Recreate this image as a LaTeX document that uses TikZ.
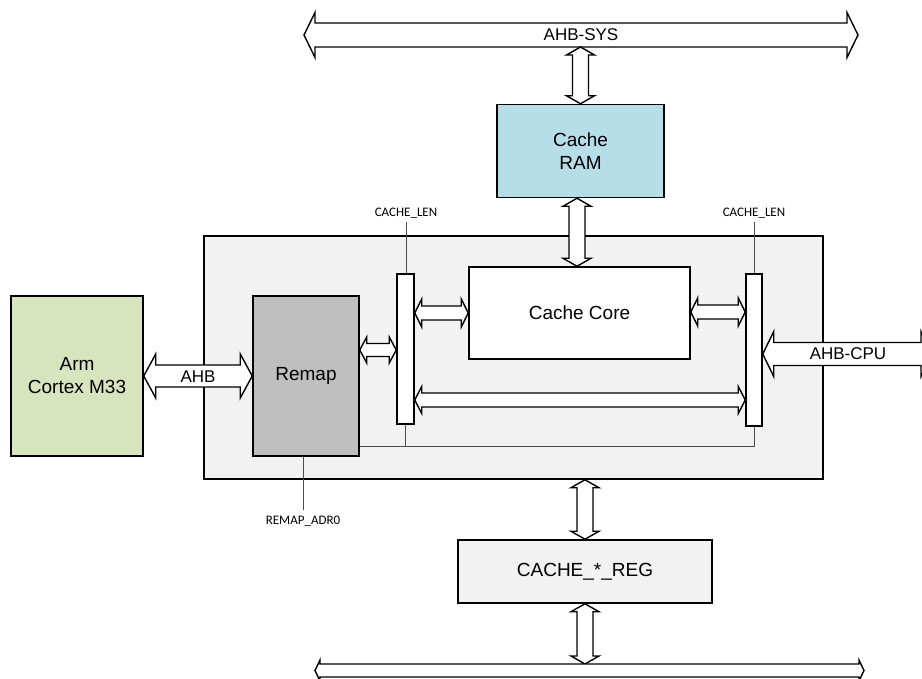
\documentclass[tikz,border=0pt]{standalone}
\usepackage{fontspec}
\setmainfont{Liberation Sans}
\newfontfamily\sigfont{Carlito}
\usetikzlibrary{calc}

\definecolor{armgreen}{HTML}{D7E4BD}
\definecolor{ramblue}{HTML}{B7DDE8}
\definecolor{remapgray}{HTML}{BFBFBF}
\definecolor{panel}{HTML}{F2F2F2}

% Horizontal block arrow with a head at both ends.
% #2 left tip, #3 right tip, #4 shaft half width, #5 head half width, #6 head length
\newcommand{\hblock}[6][]{%
  \filldraw[blockarrow,#1] let \p1=#2, \p2=#3 in
    (\x1,\y1) -- (\x1+#6,\y1+#5) -- (\x1+#6,\y1+#4) -- (\x2-#6,\y1+#4)
    -- (\x2-#6,\y1+#5) -- (\x2,\y1) -- (\x2-#6,\y1-#5) -- (\x2-#6,\y1-#4)
    -- (\x1+#6,\y1-#4) -- (\x1+#6,\y1-#5) -- cycle;}

% Vertical block arrow with a head at both ends.
% #2 upper tip, #3 lower tip, #4 shaft half width, #5 head half width, #6 head length
\newcommand{\vblock}[6][]{%
  \filldraw[blockarrow,#1] let \p1=#2, \p2=#3 in
    (\x1,\y1) -- (\x1+#5,\y1-#6) -- (\x1+#4,\y1-#6) -- (\x1+#4,\y2+#6)
    -- (\x1+#5,\y2+#6) -- (\x1,\y2) -- (\x1-#5,\y2+#6) -- (\x1-#4,\y2+#6)
    -- (\x1-#4,\y1-#6) -- (\x1-#5,\y1-#6) -- cycle;}

\begin{document}
\begin{tikzpicture}[x=1pt,y=-1pt,
  box/.style={draw=black, line width=1.5pt, inner sep=0pt, align=center,
    font=\fontsize{19}{23}\selectfont},
  bar/.style={draw=black, line width=1.5pt, fill=white, inner sep=0pt},
  blockarrow/.style={draw=black, fill=white, line width=1.4pt, line join=miter},
  lead/.style={draw=black!70, line width=0.9pt},
  sig/.style={font=\sigfont\fontsize{13}{15}\selectfont, inner sep=4pt},
  buslabel/.style={font=\fontsize{17}{20}\selectfont, inner sep=0pt}]

\useasboundingbox (0,0) rectangle (922,679);

% cache controller panel
\node[box, fill=panel, minimum width=619pt, minimum height=243pt] (cont) at (513.5,357.5) {};

% bus ends
\coordinate (sysL) at (304,35);
\coordinate (sysR) at (858,35);
\coordinate (sysB) at (0,47);
\coordinate (apbL) at (315,670.5);
\coordinate (apbR) at (864,670.5);
\coordinate (apbT) at (0,664);
\coordinate (cpuR) at (932,354);

% blocks
\node[box, fill=armgreen, minimum width=132pt, minimum height=160pt] (arm) at (77,376) {Arm\\Cortex M33};
\node[box, fill=remapgray, minimum width=106pt, minimum height=160pt] (remap) at (306,376) {Remap};
\node[box, fill=ramblue, minimum width=167pt, minimum height=93pt] (ram) at (580.5,151) {Cache\\RAM};
\node[box, fill=white, minimum width=221pt, minimum height=92pt] (core) at (579.5,313) {Cache Core};
\node[box, fill=panel, minimum width=254pt, minimum height=63pt] (reg) at (585,571.5) {CACHE\_*\_REG};

% enable signal leads and the loop under the bars
\node[sig] (lenL) at (406,213) {CACHE\_LEN};
\node[sig] (lenR) at (754,213) {CACHE\_LEN};
\node[sig, inner sep=6pt] (adr) at (303,521) {REMAP\_ADR0};

\node[bar, minimum width=17pt, minimum height=150pt] (lbar) at (405.5,349) {};
\node[bar, minimum width=16pt, minimum height=152pt] (rbar) at (754,350) {};

\draw[lead] (lenL.south) -- (lenL.south |- lbar.north);
\draw[lead] (lenR.south) -- (lenR.south |- rbar.north);
\draw[lead] (remap.east |- 0,446) -- (rbar.south |- 0,446) -- (rbar.south);
\draw[lead] (lbar.south) -- (lbar.south |- 0,446);
\draw[lead] (adr.north |- remap.south) -- (adr.north);

% bus arrows
\hblock{(sysL)}{(sysR)}{12pt}{22.5pt}{11pt}
\node[buslabel] at (581,35) {AHB-SYS};
\vblock{(ram.north |- sysB)}{(ram.north)}{8pt}{14pt}{8pt}
\vblock{([xshift=-3.5pt]ram.south)}{([xshift=-3.5pt]ram.south |- core.north)}{8pt}{14pt}{8pt}

\hblock{(arm.east)}{(remap.west)}{11pt}{22pt}{12pt}
\node[buslabel] at (198,377) {AHB};
\hblock{(remap.east |- 0,350)}{(lbar.west |- 0,350)}{6.5pt}{13pt}{7pt}
\hblock{(lbar.east |- 0,313)}{(core.west |- 0,313)}{7pt}{14pt}{7pt}
\hblock{(core.east |- 0,312)}{(rbar.west |- 0,312)}{7pt}{14pt}{7pt}
\hblock{(lbar.east |- 0,400)}{(rbar.west |- 0,400)}{7pt}{13.5pt}{7pt}
\hblock{(rbar.east |- cpuR)}{(cpuR)}{11.5pt}{22.5pt}{11pt}
\node[buslabel] at (848,354) {AHB-CPU};

\vblock{(reg.north |- cont.south)}{(reg.north)}{8pt}{14pt}{8pt}
\vblock{(reg.south)}{(reg.south |- apbT)}{8pt}{14pt}{8pt}
\hblock{(apbL)}{(apbR)}{6.5pt}{10.5pt}{5pt}

\end{tikzpicture}
\end{document}
